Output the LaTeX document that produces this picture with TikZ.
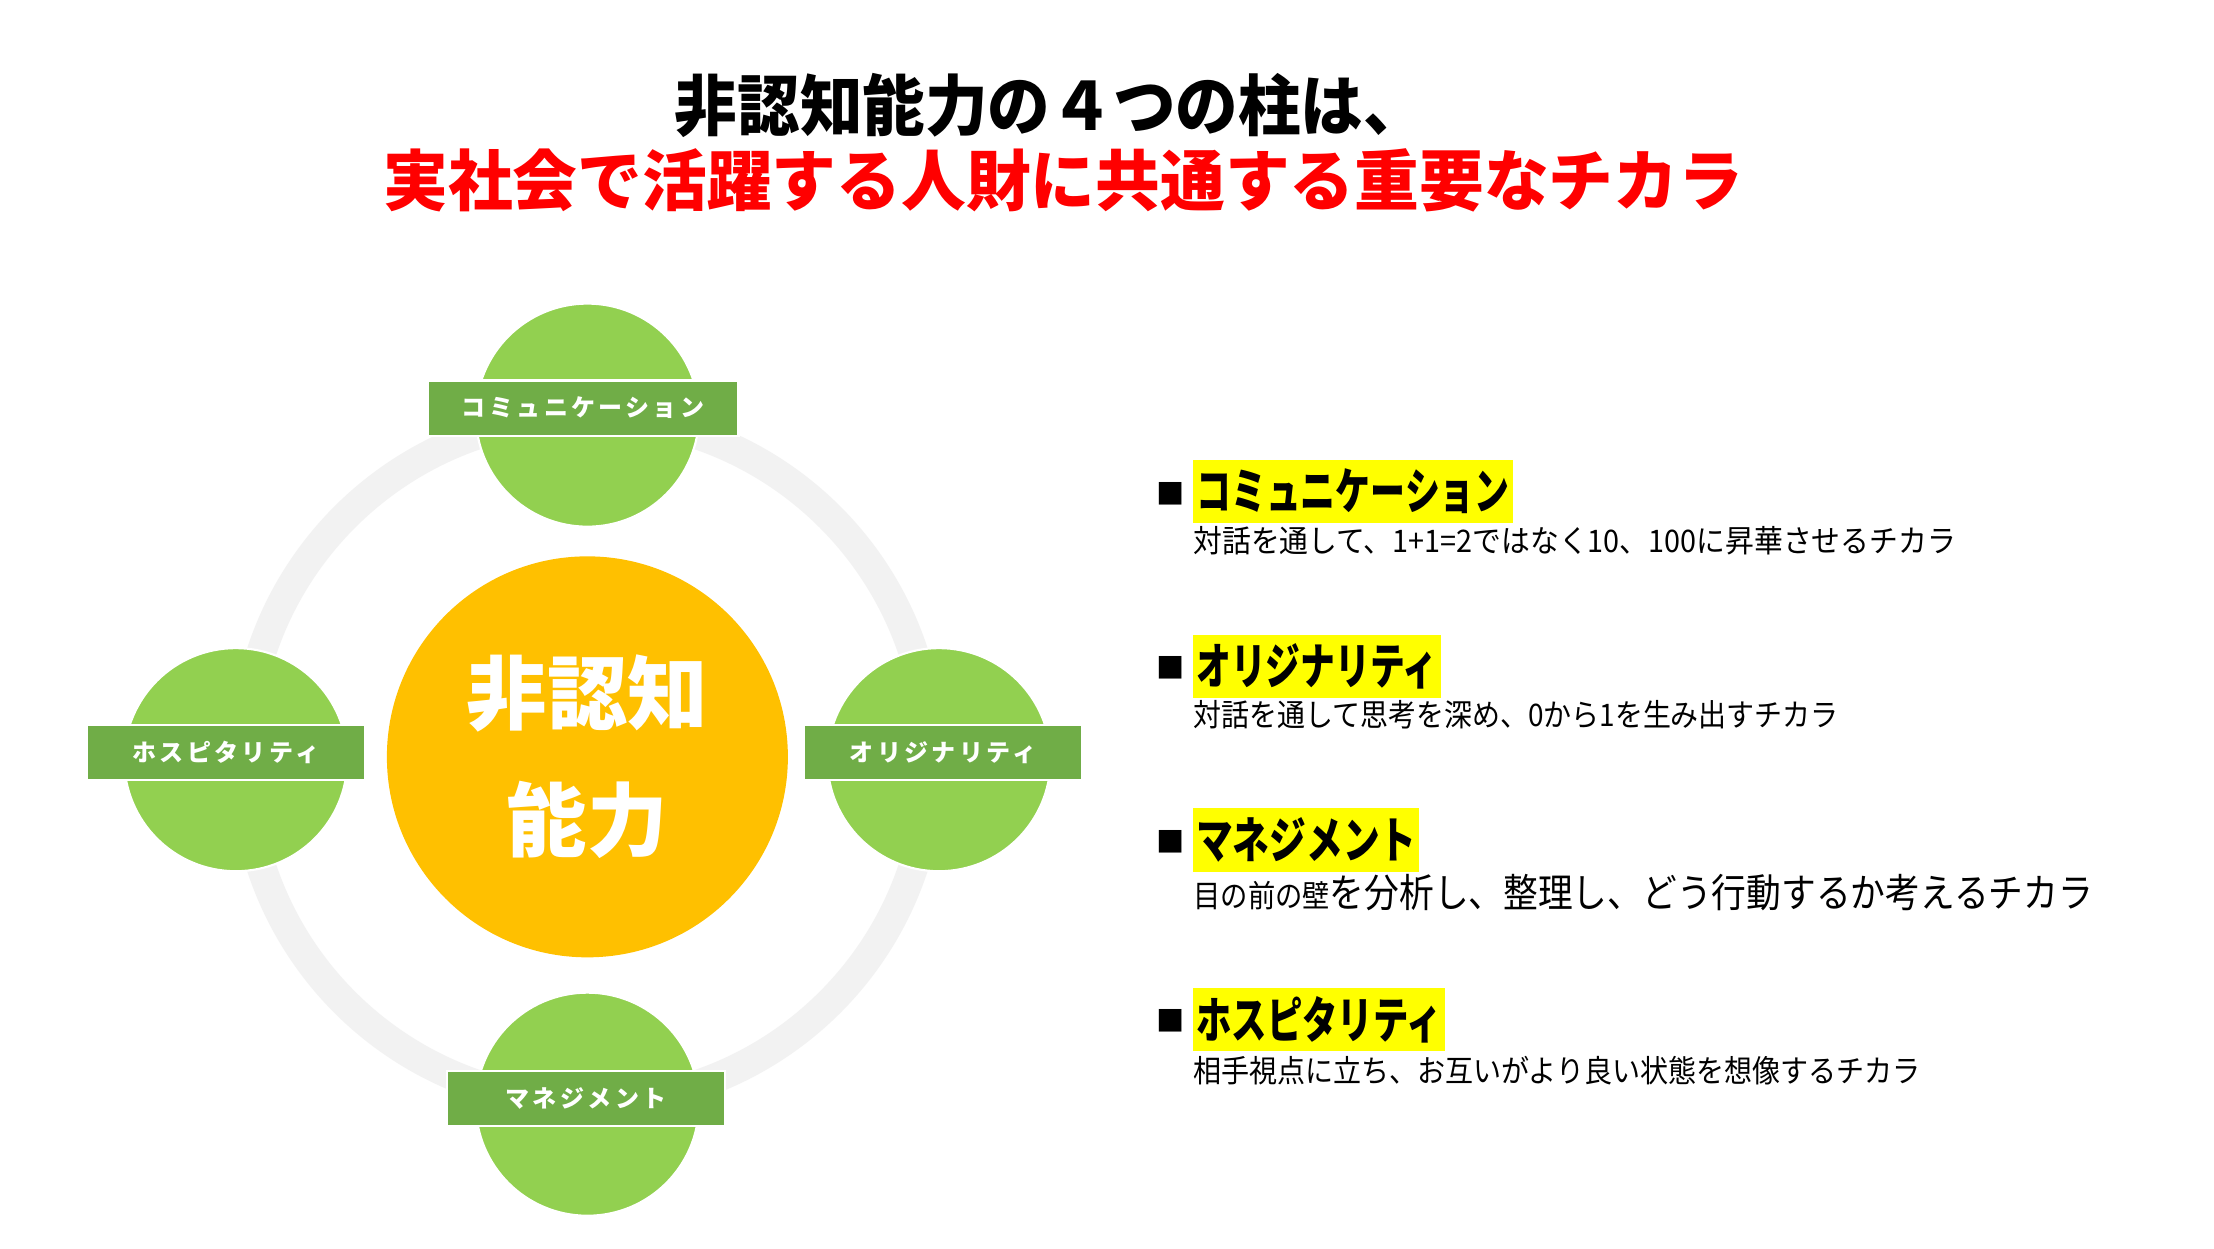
\documentclass[tikz,border=0pt]{standalone}
\usepackage{fontspec}
\usepackage{graphicx}
\setmainfont{Noto Sans CJK JP}
\newfontfamily\jp{Noto Sans CJK JP}
\newfontfamily\lbl[LetterSpace=14]{Noto Sans CJK JP}
\definecolor{ringgray}{HTML}{F2F2F2}
\definecolor{coreorange}{HTML}{FFC000}
\definecolor{ballgreen}{HTML}{92D050}
\definecolor{labelgreen}{HTML}{70AD47}
\definecolor{hlyellow}{HTML}{FFFF00}
\definecolor{titlered}{HTML}{FF0000}
\newcommand\fitw[2]{\resizebox{#1}{\height}{#2}}
\tikzset{
  ringstyle/.style={circle, draw=ringgray, line width=21pt, minimum size=486pt, inner sep=0pt},
  corestyle/.style={circle, fill=coreorange, minimum size=284pt, inner sep=0pt, text=white,
    font=\jp\bfseries\fontsize{57}{90}\selectfont, align=center},
  ball/.style={circle, fill=ballgreen, draw=white, line width=1.5pt, minimum size=158pt, inner sep=0pt},
  tag/.style={rectangle, fill=labelgreen, draw=white, line width=1.5pt, minimum height=39pt,
    inner sep=0pt, text=white, font=\lbl\bfseries\fontsize{17}{19}\selectfont},
  hl/.style={rectangle, fill=hlyellow, anchor=west, minimum height=45pt, inner xsep=1pt, inner ysep=0pt,
    font=\jp\bfseries\fontsize{35}{38}\selectfont},
  bullet/.style={anchor=center, inner sep=0pt, font=\jp\fontsize{20}{22}\selectfont},
  desc/.style={anchor=west, inner sep=0pt, font=\jp\fontsize{22}{26}\selectfont},
  titleline/.style={anchor=center, inner sep=0pt, font=\jp\bfseries\fontsize{47}{50}\selectfont}
}
\begin{document}
\begin{tikzpicture}[x=1pt,y=-1pt]
\useasboundingbox[fill=white] (0,0) rectangle (1568,884);

% title
\node[titleline] (t1) at (744,75) {\fitw{532pt}{非認知能力の４つの柱は、}};
\node[titleline, text=titlered] (t2) at (753,128) {\fitw{963pt}{実社会で活躍する人財に共通する重要なチカラ}};

% diagram
\node[ringstyle] (ring) at (416,538) {};
\node[corestyle] (core) at (416,536) {非認知\\能力};

\node[ball] (bTop) at (416,294) {};
\node[ball] (bLeft) at (167,538) {};
\node[ball] (bRight) at (665,538) {};
\node[ball] (bBottom) at (416,782) {};

\node[tag, minimum width=220pt] (lTop) at (413,289) {コミュニケーション};
\node[tag, minimum width=197pt] (lLeft) at (160,533) {ホスピタリティ};
\node[tag, minimum width=197pt] (lRight) at (668,533) {オリジナリティ};
\node[tag, minimum width=197pt] (lBottom) at (415,778) {マネジメント};

% right column
\node[bullet] (s1) at (829,350) {■};
\node[hl, minimum width=226pt] (h1) at (845,348) {\fitw{222pt}{コミュニケーション}};
\node[desc] (d1) at (845,383) {\fitw{540pt}{対話を通して、1+1=2ではなく10、100に昇華させるチカラ}};

\node[bullet] (s2) at (829,473) {■};
\node[hl, minimum width=175pt] (h2) at (845,472) {\fitw{171pt}{オリジナリティ}};
\node[desc] (d2) at (845,506) {\fitw{457pt}{対話を通して思考を深め、0から1を生み出すチカラ}};

\node[bullet] (s3) at (829,596) {■};
\node[hl, minimum width=160pt] (h3) at (845,595) {\fitw{156pt}{マネジメント}};
\node[desc] (d3) at (845,632) {\fitw{637pt}{目の前の壁{\fontsize{28}{32}\selectfont を分析し、整理し、どう行動するか考えるチカラ}}};

\node[bullet] (s4) at (829,723) {■};
\node[hl, minimum width=178pt] (h4) at (845,722) {\fitw{174pt}{ホスピタリティ}};
\node[desc] (d4) at (845,758) {\fitw{515pt}{相手視点に立ち、お互いがより良い状態を想像するチカラ}};
\end{tikzpicture}
\end{document}
